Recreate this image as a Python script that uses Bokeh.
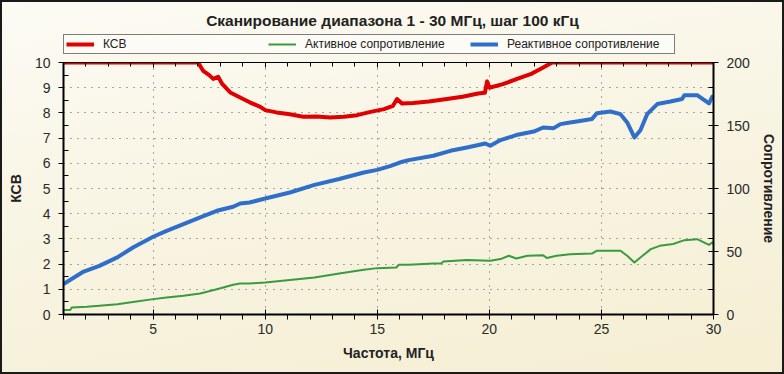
from bokeh.plotting import figure
from bokeh.layouts import column
from bokeh.models import (Range1d, LinearAxis, FixedTicker, Legend, LegendItem,
                          Label)
from bokeh.embed import file_html
from bokeh.resources import INLINE

FONT = "Liberation Sans"

TITLE = "Сканирование диапазона 1 - 30 МГц, шаг 100 кГц"
X_LABEL = "Частота, МГц"
Y_LEFT_LABEL = "КСВ"
Y_RIGHT_LABEL = "Сопротивление"
SERIES_NAMES = ["КСВ", "Активное сопротивление", "Реактивное сопротивление"]

x_major = [5, 10, 15, 20, 25, 30]
x_minor = [1, 2, 3, 4, 6, 7, 8, 9, 11, 12, 13, 14, 16, 17, 18, 19,
           21, 22, 23, 24, 26, 27, 28, 29]
swr_major = [0, 1, 2, 3, 4, 5, 6, 7, 8, 9, 10]
swr_minor = [0.5, 1.5, 2.5, 3.5, 4.5, 5.5, 6.5, 7.5, 8.5, 9.5]
res_major = [0, 50, 100, 150, 200]
res_minor = [20, 40, 60, 80, 120, 140, 160, 180]

# SWR (left axis), clipped at 10
swr_f = [1.0, 7.0, 7.23, 7.5, 7.68, 7.9, 8.08, 8.44, 8.88, 9.33, 9.78, 10.0,
         10.5, 11.1, 11.7, 12.3, 12.9, 13.5, 14.1, 14.7, 15.3, 15.7, 15.88,
         16.1, 16.6, 17.3, 18.1, 18.8, 19.5, 19.8, 19.9, 20.0, 20.6, 21.3,
         21.9, 22.4, 22.8, 30.0]
swr_v = [10, 10, 9.67, 9.5, 9.35, 9.43, 9.15, 8.81, 8.61, 8.41, 8.24, 8.11,
         8.02, 7.95, 7.85, 7.86, 7.82, 7.85, 7.91, 8.04, 8.15, 8.28, 8.55,
         8.37, 8.39, 8.45, 8.55, 8.64, 8.77, 8.8, 9.25, 9.0, 9.14, 9.37,
         9.56, 9.8, 10, 10]

# Active resistance (right axis)
act_f = [1.0, 1.3, 1.37, 2.04, 2.6, 3.4, 4.1, 5.0, 5.6, 6.35, 7.1, 7.84,
         8.57, 8.88, 9.3, 10.0, 11.1, 12.2, 13.3, 14.4, 15.0, 15.85, 15.95,
         16.4, 17.5, 17.85, 17.95, 19.0, 20.04, 20.5, 20.87, 21.2, 21.7,
         22.4, 22.56, 23.0, 23.6, 24.58, 24.8, 25.85, 26.15, 26.47, 26.74,
         27.2, 27.6, 28.2, 28.7, 29.27, 29.8, 29.94, 30.0]
act_v = [3.5, 3.5, 5.6, 6.1, 6.9, 8.2, 10.0, 12.2, 13.5, 14.8, 16.7, 20.1,
         23.6, 24.6, 24.6, 25.4, 27.3, 29.4, 32.5, 35.5, 36.8, 37.3, 39.4,
         39.4, 40.5, 40.5, 42.1, 43.2, 42.6, 44.0, 46.6, 44.4, 46.6,
         47.1, 44.8, 46.6, 47.9, 48.4, 50.6, 50.6, 46.6, 41.3, 45.2,
         51.9, 54.5, 55.9, 59.0, 59.8, 55.3, 57.1, 56.0]

# Reactive resistance (right axis)
rea_f = [1.0, 1.9, 2.6, 3.4, 4.1, 5.0, 5.6, 6.35, 7.1, 7.84, 8.57, 8.88, 9.3,
         10.0, 11.1, 12.2, 13.3, 14.4, 15.0, 15.6, 16.0, 16.4, 17.5, 18.26,
         19.0, 19.82, 20.04, 20.5, 21.2, 21.98, 22.4, 22.87, 23.17, 23.6,
         23.9, 24.58, 24.8, 25.4, 25.85, 26.15, 26.47, 26.74, 27.04, 27.49,
         28.08, 28.6, 28.7, 29.27, 29.8, 29.94, 30.0]
rea_v = [24.1, 34.1, 38.6, 45.3, 53.2, 61.7, 66.4, 71.7, 77.0, 82.3, 85.5,
         88.1, 88.9, 92.1, 96.8, 102.9, 107.5, 112.7, 114.8, 118.0, 120.6,
         122.5, 126.0, 129.9, 132.5, 135.7, 133.9, 138.4, 142.4, 145.2,
         148.4, 147.9, 151.1, 152.4, 153.2, 155.1, 159.8, 161.1, 159.0,
         152.4, 140.5, 146.3, 159.0, 167.0, 169.0, 171.0, 174.1, 174.1,
         167.5, 172.8, 172.0]

RED = "#e00000"
GREEN = "#3a9b3e"
BLUE = "#2f6fca"
INK = "#222222"

HEAD_H = 54

# ---------------- header: title + legend ----------------
# its frame is aligned with the main plot frame (x 63..713); data units = page px
head = figure(width=784, height=HEAD_H, x_range=Range1d(63, 713),
              y_range=Range1d(HEAD_H, 0),
              output_backend="svg", toolbar_location=None, title=None,
              x_axis_location=None, y_axis_location=None,
              min_border=0)
head.grid.visible = False
head.outline_line_color = None
head.background_fill_alpha = 0
head.border_fill_alpha = 0

head.add_layout(Label(x=392, y=20, text=TITLE, text_align="center",
                      text_baseline="middle", text_font=FONT,
                      text_font_size="15.5px", text_font_style="bold",
                      text_color=INK))

# hidden copies of the series, only used to draw the legend keys
k_swr = head.line(swr_f, swr_v, color=RED, line_width=4, visible=False)
k_act = head.line(act_f, act_v, color=GREEN, line_width=2, visible=False)
k_rea = head.line(rea_f, rea_v, color=BLUE, line_width=4, visible=False)

legend = Legend(
    items=[LegendItem(label=SERIES_NAMES[0], renderers=[k_swr]),
           LegendItem(label=SERIES_NAMES[1], renderers=[k_act]),
           LegendItem(label=SERIES_NAMES[2], renderers=[k_rea])],
    orientation="horizontal", location=(0, 0),
    margin=0, padding=2, spacing=0,
    glyph_width=28, glyph_height=10, label_standoff=9,
    label_width=165, label_height=10,
    label_text_font=FONT, label_text_font_size="12px",
    label_text_line_height=1.0,
    label_text_color=INK,
    border_line_color="black", border_line_width=1,
    background_fill_color="#fcfbf5", background_fill_alpha=1,
    click_policy="none",
)
head.add_layout(legend, "center")

# ---------------- main plot ----------------
p = figure(width=784, height=374 - HEAD_H, x_range=Range1d(1, 30),
           y_range=Range1d(0, 10),
           output_backend="svg", toolbar_location=None, title=None,
           min_border_left=63, min_border_right=71, min_border_top=62 - HEAD_H,
           min_border_bottom=60)
p.extra_y_ranges = {"res": Range1d(0, 200)}

p.background_fill_alpha = 0
p.border_fill_alpha = 0
p.outline_line_color = "black"
p.outline_line_width = 1

r_act = p.line(act_f, act_v, y_range_name="res", color=GREEN, line_width=2,
               line_join="round")
r_rea = p.line(rea_f, rea_v, y_range_name="res", color=BLUE, line_width=4,
               line_join="round")
r_swr = p.line(swr_f, swr_v, color=RED, line_width=4, line_join="round")

p.xgrid.ticker = FixedTicker(ticks=[5, 10, 15, 20, 25])
p.ygrid.ticker = FixedTicker(ticks=[1, 2, 3, 4, 5, 6, 7, 8, 9])
for g in (p.xgrid, p.ygrid):
    g.grid_line_color = "#555555"
    g.grid_line_dash = "1 6"
    g.grid_line_width = 1


def style_axis(ax):
    ax.axis_line_color = "black"
    ax.axis_line_width = 2
    ax.major_tick_line_color = "black"
    ax.minor_tick_line_color = "black"
    ax.major_tick_line_width = 1
    ax.minor_tick_line_width = 1
    ax.major_label_text_font = FONT
    ax.major_label_text_font_size = "14px"
    ax.major_label_text_color = "#2a2a2a"
    ax.axis_label_text_font = FONT
    ax.axis_label_text_font_size = "14px"
    ax.axis_label_text_font_style = "bold"
    ax.axis_label_text_color = INK


xa = p.xaxis[0]
xa.ticker = FixedTicker(ticks=x_major, minor_ticks=x_minor)
style_axis(xa)
xa.major_tick_in = 5
xa.major_tick_out = 5
xa.minor_tick_in = 0
xa.minor_tick_out = 5
xa.major_label_standoff = 4
xa.axis_label = X_LABEL
xa.axis_label_standoff = 8

ya = p.yaxis[0]
ya.ticker = FixedTicker(ticks=swr_major, minor_ticks=swr_minor)
style_axis(ya)
ya.major_tick_in = 0
ya.major_tick_out = 5
ya.minor_tick_in = 5
ya.minor_tick_out = 0
ya.major_label_standoff = 8
ya.axis_label = Y_LEFT_LABEL
ya.axis_label_standoff = 8

yr = LinearAxis(y_range_name="res",
                ticker=FixedTicker(ticks=res_major, minor_ticks=res_minor))
style_axis(yr)
yr.major_tick_in = 5
yr.major_tick_out = 5
yr.minor_tick_in = 5
yr.minor_tick_out = 0
yr.major_label_standoff = 8
yr.axis_label = Y_RIGHT_LABEL
yr.axis_label_standoff = 8
yr.axis_label_orientation = "vertical"
p.add_layout(yr, "right")

# top axis: ticks only
xt = LinearAxis(ticker=FixedTicker(ticks=x_major, minor_ticks=x_minor))
style_axis(xt)
xt.axis_line_width = 1
xt.major_tick_in = 5
xt.major_tick_out = 0
xt.minor_tick_in = 4
xt.minor_tick_out = 0
xt.major_label_text_color = None
xt.major_label_standoff = 0
p.add_layout(xt, "above")

layout = column(head, p, spacing=0)
layout.styles = {
    "position": "absolute",
    "left": "0px",
    "top": "0px",
    "background": "linear-gradient(170deg, #fcfbf4 0%, #f8f4e2 50%, #f5eed2 100%)",
    "outline": "2px solid #1a1a1a",
    "outline-offset": "-2px",
}

open("out.html", "w").write(file_html(layout, INLINE))
